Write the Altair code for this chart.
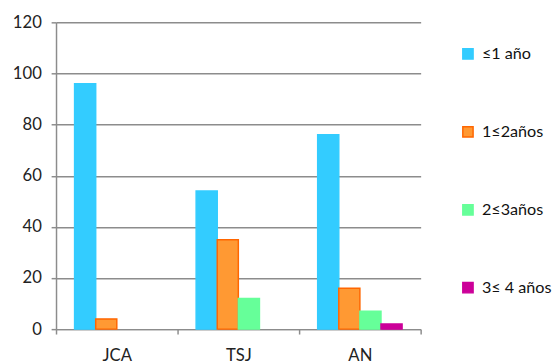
import altair as alt
import pandas as pd

categories = ["JCA", "TSJ", "AN"]
series = ["≤1 año", "1≤2años", "2≤3años", "3≤ 4 años"]
values = {
    "≤1 año": [96, 54, 76],
    "1≤2años": [4, 35, 16],
    "2≤3años": [0, 12, 7],
    "3≤ 4 años": [0, 0, 2],
}
fill_colors = ["#33CCFF", "#FF9933", "#66FF99", "#CC0099"]
stroke_colors = ["#33CCFF", "#FF6600", "#66FF99", "#CC0099"]

rows = []
for s in series:
    for c, v in zip(categories, values[s]):
        rows.append({"cat": c, "serie": s, "v": v})
df = pd.DataFrame(rows)

FONT = "Lato"

chart = alt.Chart(df).transform_filter(alt.datum.v > 0).mark_bar(strokeWidth=1.5).encode(
    x=alt.X("cat:N", sort=categories, title=None,
            scale=alt.Scale(paddingInner=0, paddingOuter=0),
            axis=alt.Axis(labelAngle=0, tickBand="extent", tickSize=5, labelPadding=14,
                          domainColor="#8c8c8c", tickColor="#8c8c8c", domainWidth=1.5, tickWidth=1.5,
                          labelFontSize=17, labelColor="#222222", labelFont=FONT)),
    xOffset=alt.XOffset("serie:N", sort=series,
                        scale=alt.Scale(domain=series, paddingInner=0, paddingOuter=0.88)),
    y=alt.Y("v:Q", title=None,
            scale=alt.Scale(domain=[0, 120], nice=False),
            axis=alt.Axis(values=[0, 20, 40, 60, 80, 100, 120], tickSize=5, labelPadding=10,
                          gridColor="#8c8c8c", gridWidth=1.5, domainColor="#8c8c8c", domainWidth=1.5,
                          tickColor="#8c8c8c", tickWidth=1.5,
                          labelFontSize=17, labelColor="#222222", labelFont=FONT)),
    fill=alt.Fill("serie:N", sort=series, title=None,
                  scale=alt.Scale(domain=series, range=fill_colors),
                  legend=alt.Legend(orient="none", legendX=412, legendY=24, symbolType="square",
                                    symbolSize=110, symbolStrokeWidth=1.5, rowPadding=62.5,
                                    labelFontSize=16.5, labelFont=FONT, labelColor="#111111",
                                    labelOffset=6)),
    stroke=alt.Stroke("serie:N", sort=series, title=None,
                      scale=alt.Scale(domain=series, range=stroke_colors)),
).properties(
    width=372, height=313,
    padding={"left": 4, "top": 2, "right": 0, "bottom": 0},
).configure_view(stroke=None).configure_axisX(grid=False)

chart.save("out.html", embed_options={"renderer": "svg", "actions": False})
